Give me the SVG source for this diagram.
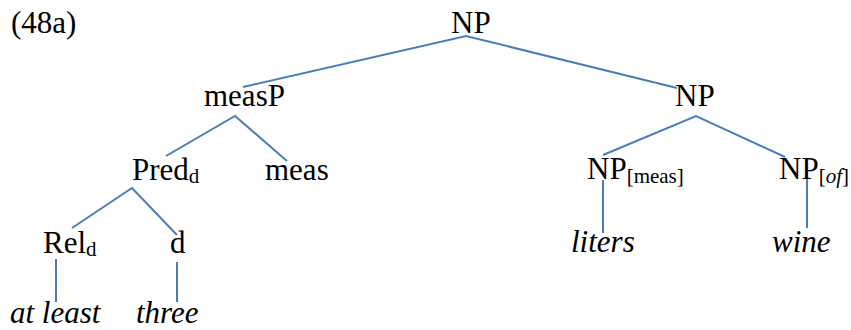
<svg xmlns="http://www.w3.org/2000/svg" width="851" height="330" viewBox="0 0 851 330">
<style>
text{font-family:'Liberation Serif','Times New Roman',serif;font-size:31px;fill:#000}
.sub{font-size:21px}
.it{font-style:italic}
.e{stroke:#4a7ebb;stroke-width:2;fill:none}
</style>
<rect width="851" height="330" fill="#fff"/>
<text id="label" x="11" y="33">(48a)</text>
<g id="connectors">
<polyline class="e" points="243,87 466,36 677,88"/>
<polyline class="e" points="166,156 235,116 287,161"/>
<polyline class="e" points="72,228 132,188 177,235"/>
<line class="e" x1="56" y1="259" x2="56" y2="302"/>
<line class="e" x1="177" y1="262" x2="177" y2="302"/>
<polyline class="e" points="603,155 696,116 785,157"/>
<line class="e" x1="603" y1="180" x2="603" y2="233"/>
<line class="e" x1="807" y1="178" x2="807" y2="228"/>
</g>
<g id="n-np"><text x="451" y="33">NP</text></g>
<g id="n-measp"><text x="204" y="106">measP</text></g>
<g id="n-np2"><text x="675" y="106">NP</text></g>
<g id="n-pred"><text x="132" y="180">Pred<tspan class="sub" dy="3">d</tspan></text></g>
<g id="n-meas"><text x="265" y="180">meas</text></g>
<g id="n-rel"><text x="43" y="253">Rel<tspan class="sub" dy="3">d</tspan></text></g>
<g id="n-d"><text x="170" y="253">d</text></g>
<g id="n-atleast"><text class="it" x="10" y="323">at least</text></g>
<g id="n-three"><text class="it" x="136" y="323">three</text></g>
<g id="n-npmeas"><text x="587" y="179">NP<tspan class="sub" dy="4">[meas]</tspan></text></g>
<g id="n-npof"><text x="779" y="179">NP<tspan class="sub" dy="4">[<tspan class="it">of</tspan>]</tspan></text></g>
<g id="n-liters"><text class="it" x="571" y="252">liters</text></g>
<g id="n-wine"><text class="it" x="772" y="252">wine</text></g>
</svg>
